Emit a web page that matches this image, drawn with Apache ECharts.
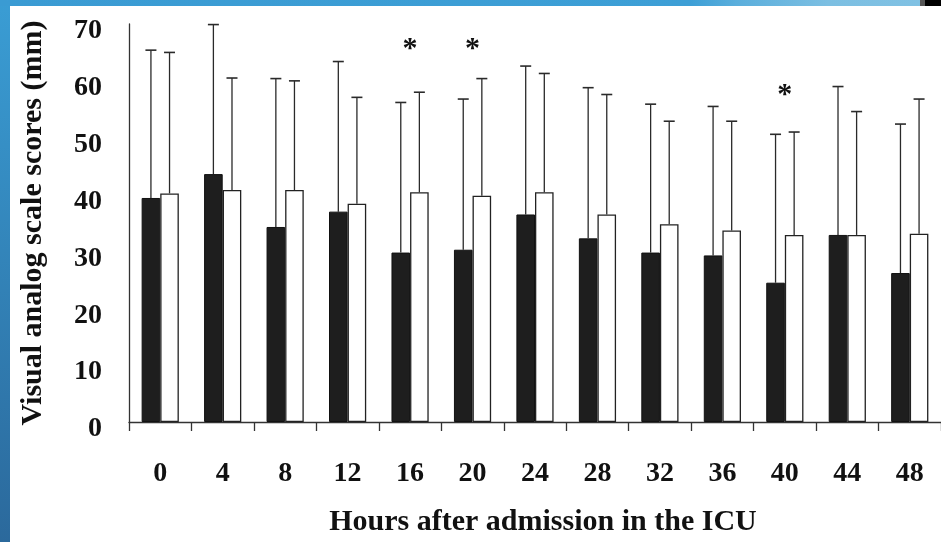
<!DOCTYPE html>
<html>
<head>
<meta charset="utf-8">
<script src="https://cdn.jsdelivr.net/npm/echarts@6/dist/echarts.min.js"></script>
<style>
html,body{margin:0;padding:0;background:#fff;}
#chart{width:941px;height:542px;}
</style>
</head>
<body>
<div id="chart"></div>
<script>
// ---- data ----
var categories = ['0','4','8','12','16','20','24','28','32','36','40','44','48'];
var darkMeans  = [39.4, 43.6, 34.3, 37.0, 29.8, 30.3, 36.5, 32.3, 29.8, 29.3, 24.5, 32.9, 26.2];
var darkUpper  = [65.4, 69.9, 60.4, 63.4, 56.2, 56.8, 62.6, 58.8, 55.9, 55.5, 50.6, 59.0, 52.4];
var whiteMeans = [40.2, 40.8, 40.8, 38.4, 40.4, 39.8, 40.4, 36.5, 34.8, 33.7, 32.9, 32.9, 33.1];
var whiteUpper = [65.0, 60.5, 60.0, 57.1, 58.0, 60.4, 61.3, 57.6, 52.9, 52.9, 51.0, 54.6, 56.8];
var sigCategories = ['16', '20', '40'];
var sigY = [65.6, 65.6, 57.4];
var yTicks = [0, 10, 20, 30, 40, 50, 60, 70];

// ---- styling ----
var FONT = '"Liberation Serif", "Times New Roman", serif';
var BAR_W = 18.6;

function errorSeries(values, uppers, side) {
  return {
    type: 'custom',
    silent: true,
    z: 1,
    data: values.map(function (v, i) { return [i, v, uppers[i]]; }),
    renderItem: function (params, api) {
      var base = api.coord([api.value(0), api.value(1)]);
      var top = api.coord([api.value(0), api.value(2)]);
      var x = base[0] + side * BAR_W / 2;
      return {
        type: 'group',
        children: [
          { type: 'line', shape: { x1: x, y1: base[1], x2: x, y2: top[1] },
            style: { stroke: '#2a2a2a', lineWidth: 1.3 } },
          { type: 'line', shape: { x1: x - 5.5, y1: top[1], x2: x + 5.5, y2: top[1] },
            style: { stroke: '#2a2a2a', lineWidth: 1.6 } }
        ]
      };
    }
  };
}

var chart = echarts.init(document.getElementById('chart'));
chart.setOption({
  backgroundColor: '#ffffff',
  animation: false,
  grid: { left: 129, right: -9.6, top: 24, bottom: 118 },
  graphic: [
    { type: 'rect', left: 0, top: 0, shape: { width: 10, height: 542 }, z: 100,
      style: { fill: new echarts.graphic.LinearGradient(0, 0, 0, 1, [
        { offset: 0, color: '#3a9dd4' }, { offset: 1, color: '#2b699c' }]) } },
    { type: 'rect', left: 0, top: 0, shape: { width: 920, height: 6 }, z: 100,
      style: { fill: new echarts.graphic.LinearGradient(0, 0, 1, 0, [
        { offset: 0, color: '#3a9bd3' }, { offset: 0.75, color: '#3d9fd6' },
        { offset: 0.8, color: '#5aaedc' }, { offset: 0.9, color: '#7cbfe2' }, { offset: 1, color: '#80c1e3' }]) } },
    { type: 'rect', left: 920, top: 0, shape: { width: 5, height: 6 }, z: 100, style: { fill: '#555' } },
    { type: 'rect', left: 925, top: 0, shape: { width: 16, height: 6 }, z: 100, style: { fill: '#000' } }
  ],
  xAxis: {
    type: 'category',
    data: categories,
    boundaryGap: true,
    name: 'Hours after admission in the ICU',
    nameLocation: 'middle',
    nameGap: 85,
    nameTextStyle: { fontFamily: FONT, fontWeight: 'bold', fontSize: 30, color: '#111', padding: [0, 0, 0, 16] },
    axisLine: { lineStyle: { color: '#333', width: 1.3 } },
    axisTick: { show: true, length: 9, alignWithLabel: false, lineStyle: { color: '#333', width: 1.3 } },
    axisLabel: { fontFamily: FONT, fontWeight: 'bold', fontSize: 28, color: '#111', margin: 38 },
    splitLine: { show: false }
  },
  yAxis: {
    type: 'value',
    min: 0, max: 70, interval: 10,
    name: 'Visual analog scale scores (mm)',
    nameLocation: 'middle',
    nameGap: 81,
    nameRotate: 90,
    nameTextStyle: { fontFamily: FONT, fontWeight: 'bold', fontSize: 30, color: '#111' },
    axisLine: { show: true, lineStyle: { color: '#333', width: 1.3 } },
    axisTick: { show: false },
    axisLabel: {
      fontFamily: FONT, fontWeight: 'bold', fontSize: 28, color: '#111', margin: 27,
      formatter: function (v) { return yTicks.indexOf(v) >= 0 ? '{n|' + v + '}' : ''; },
      rich: { n: { fontFamily: FONT, fontWeight: 'bold', fontSize: 28, color: '#111', padding: [14, 0, 0, 0] } }
    },
    splitLine: { show: false }
  },
  series: [
    errorSeries(darkMeans, darkUpper, -1),
    errorSeries(whiteMeans, whiteUpper, 1),
    {
      type: 'bar', name: 'dark', data: darkMeans, barWidth: BAR_W, barGap: '0%', z: 2,
      itemStyle: { color: '#1e1e1e', borderColor: '#111', borderWidth: 1 }
    },
    {
      type: 'bar', name: 'white', data: whiteMeans, barWidth: BAR_W, barGap: '0%', z: 2,
      itemStyle: { color: '#ffffff', borderColor: '#222', borderWidth: 1.3 }
    },
    {
      type: 'scatter', silent: true, symbolSize: 1, itemStyle: { opacity: 0 },
      data: sigCategories.map(function (c, i) { return [c, sigY[i]]; }),
      label: { show: true, position: 'inside', formatter: '*', opacity: 1,
        fontFamily: FONT, fontWeight: 'bold', fontSize: 30, color: '#111' }
    }
  ]
});
</script>
</body>
</html>
